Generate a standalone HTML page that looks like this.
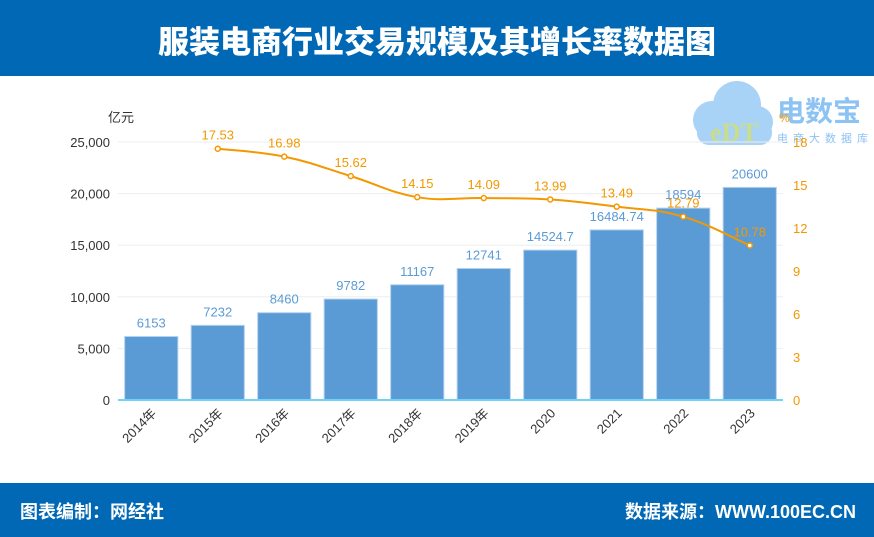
<!DOCTYPE html>
<html><head><meta charset="utf-8"><style>
body{margin:0;width:874px;height:537px;overflow:hidden;background:#fff;font-family:"Liberation Sans","Noto Sans CJK SC",sans-serif;position:relative}
.hdr{position:absolute;left:0;top:0;width:874px;height:76px;background:#0068b5;color:#fff;font-weight:900;font-size:31px;text-align:center;line-height:80px;font-family:"Noto Sans CJK SC",sans-serif}
.ftr{position:absolute;left:0;top:483px;width:874px;height:54px;background:#0068b5;color:#fff;font-weight:bold;font-size:18px;font-family:"Liberation Sans","Noto Sans CJK SC",sans-serif}
.ftr span{position:absolute;top:15px}
svg{position:absolute;left:0;top:0}
</style></head><body>
<div class="hdr">服装电商行业交易规模及其增长率数据图</div>
<svg width="874" height="537" id="chart">
<g id="logo">
<circle cx="712" cy="120" r="19" fill="#a9d2f7"/><circle cx="737" cy="105" r="24" fill="#a9d2f7"/><circle cx="757" cy="122" r="16" fill="#a9d2f7"/><rect x="697" y="120" width="75" height="25" rx="12" fill="#a9d2f7"/>
<text x="734" y="141" font-size="26" font-weight="bold" fill="#c9dd8a" text-anchor="middle" font-family="Liberation Serif">eDT</text>
<text x="777" y="121" font-size="28" font-weight="bold" fill="#8cc3f3" font-family="Noto Sans CJK SC">电数宝</text>
<text x="777" y="142" font-size="11" fill="#8cc3f3" letter-spacing="5" font-family="Noto Sans CJK SC">电商大数据库</text>
</g>
</svg>
<div class="ftr"><span style="left:20px">图表编制：网经社</span><span style="right:18px">数据来源：WWW.100EC.CN</span></div>
<script>
const categories=["2014年","2015年","2016年","2017年","2018年","2019年","2020","2021","2022","2023"];
const barValues=[6153,7232,8460,9782,11167,12741,14524.7,16484.74,18594,20600];
const barLabels=["6153","7232","8460","9782","11167","12741","14524.7","16484.74","18594","20600"];
const rateValues=[null,17.53,16.98,15.62,14.15,14.09,13.99,13.49,12.79,10.78];
const leftTicks=[0,5000,10000,15000,20000,25000];
const leftTickLabels=["0","5,000","10,000","15,000","20,000","25,000"];
const rightTicks=[0,3,6,9,12,15,18];
const NS="http://www.w3.org/2000/svg";
const svg=document.getElementById('chart');
const X0=118,X1=783,Y0=400,Y1=142;
const band=(X1-X0)/categories.length;
const xc=i=>X0+band*(i+0.5);
const yl=v=>Y0-(v/25000)*(Y0-Y1);
const yr=v=>Y0-(v/18)*(Y0-Y1);
function mk(t,a,txt){const e=document.createElementNS(NS,t);for(const k in a)e.setAttribute(k,a[k]);if(txt!=null)e.textContent=txt;svg.appendChild(e);return e;}
leftTicks.forEach((v,i)=>{
 if(v>0){const g=mk('line',{x1:X0,x2:X1,y1:yl(v),y2:yl(v),stroke:'#eeeeee','stroke-width':1});
 
 }
 const t=mk('text',{x:X0-8,y:yl(v)+5,'font-size':13,fill:'#333','text-anchor':'end'},leftTickLabels[i]);
 
 
});
rightTicks.forEach(v=>{
 const t=mk('text',{x:X1+10,y:yr(v)+5,'font-size':13,fill:'#f39800'},String(v));
 
 
});
const u1=mk('text',{x:108,y:122,'font-size':13,fill:'#333'},'亿元');


const u2=mk('text',{x:779,y:122,'font-size':12,fill:'#f39800'},'%');


const bw=band*0.8;
barValues.forEach((v,i)=>{
 const r=mk('rect',{x:xc(i)-bw/2,y:yl(v),width:bw,height:Y0-yl(v),fill:'#5b9bd5',stroke:'#b3d2ee','stroke-width':1});
 
 
 const t=mk('text',{x:xc(i),y:yl(v)-9,'font-size':13,fill:'#5b9bd5','text-anchor':'middle'},barLabels[i]);
 
 
 const xl=mk('text',{x:xc(i)+6,y:Y0+14,'font-size':13,fill:'#333','text-anchor':'end',transform:`rotate(-45 ${xc(i)+6} ${Y0+14})`},categories[i]);
 
 
});
const ax=mk('line',{x1:X0,x2:X1,y1:Y0,y2:Y0,stroke:'#6fd3f7','stroke-width':2});


const pts=[];rateValues.forEach((v,i)=>{if(v!=null)pts.push([xc(i),yr(v),v]);});
let d='M'+pts[0][0]+','+pts[0][1];
for(let i=0;i<pts.length-1;i++){
 const p0=pts[Math.max(0,i-1)],p1=pts[i],p2=pts[i+1],p3=pts[Math.min(pts.length-1,i+2)];
 const s=0.2;
 d+=` C${p1[0]+(p2[0]-p0[0])*s},${p1[1]+(p2[1]-p0[1])*s} ${p2[0]-(p3[0]-p1[0])*s},${p2[1]-(p3[1]-p1[1])*s} ${p2[0]},${p2[1]}`;
}
const ln=mk('path',{d:d,fill:'none',stroke:'#f39800','stroke-width':2});


pts.forEach(p=>{
 const c=mk('circle',{cx:p[0],cy:p[1],r:2.5,fill:'#fff',stroke:'#f39800','stroke-width':1.5});
 
 
 const t=mk('text',{x:p[0],y:p[1]-9,'font-size':13,fill:'#f39800','text-anchor':'middle'},p[2].toFixed(2));
 
 
});
</script>
</body></html>
